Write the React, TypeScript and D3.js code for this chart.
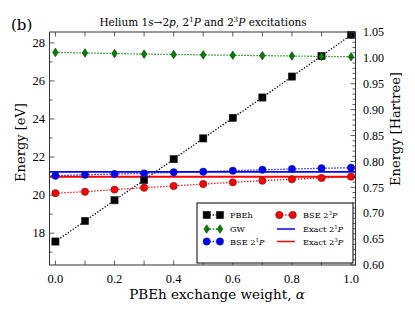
import React from 'react';
import * as d3 from 'd3';

const alphas = [0.0, 0.1, 0.2, 0.3, 0.4, 0.5, 0.6, 0.7, 0.8, 0.9, 1.0];
const pbeh = [17.56, 18.64, 19.73, 20.79, 21.89, 22.98, 24.06, 25.13, 26.23, 27.31, 28.42];
const gw = [27.5, 27.47, 27.44, 27.41, 27.39, 27.37, 27.35, 27.33, 27.31, 27.29, 27.27];
const bse1P = [21.02, 21.07, 21.11, 21.14, 21.2, 21.23, 21.28, 21.33, 21.37, 21.41, 21.44];
const bse3P = [20.1, 20.18, 20.29, 20.39, 20.48, 20.58, 20.67, 20.76, 20.83, 20.9, 20.97];
const exact1P = 21.218;
const exact3P = 20.964;

const xTicks = [0, 0.2, 0.4, 0.6, 0.8, 1.0];
const xMinor = [0.1, 0.3, 0.5, 0.7, 0.9];
const evTicks = [18, 20, 22, 24, 26, 28];
const evMinor = [17, 19, 21, 23, 25, 27];
const haTicks = [0.6, 0.65, 0.7, 0.75, 0.8, 0.85, 0.9, 0.95, 1.0, 1.05];

const HA = 27.2114;
const FONT = 'DejaVu Serif';
const TICKFONT = 'Liberation Serif';

const margin = { left: 49.5, right: 355.5, top: 32, bottom: 265 };

const x = d3.scaleLinear().domain([-0.02, 1.015]).range([margin.left, margin.right]);
const yEv = d3.scaleLinear().domain([0.6 * HA, 1.05 * HA]).range([margin.bottom, margin.top]);
const yHa = d3.scaleLinear().domain([0.6, 1.05]).range([margin.bottom, margin.top]);

const haMinor = d3.range(60, 106).map((v) => v / 100).filter((v) => Math.round(v * 100) % 5 !== 0);

const Square = ({ cx, cy, fill }: any) => (
	<rect x={cx - 3.6} y={cy - 3.6} width={7.2} height={7.2} fill={fill} stroke="#222" strokeWidth={0.6} />
);
const Diamond = ({ cx, cy, fill }: any) => (
	<path d={`M${cx},${cy - 4.3}L${cx + 2.8},${cy}L${cx},${cy + 4.3}L${cx - 2.8},${cy}Z`} fill={fill} stroke="#0a400a" strokeWidth={0.6} />
);
const Circle = ({ cx, cy, fill }: any) => <circle cx={cx} cy={cy} r={3.7} fill={fill} stroke="#333" strokeWidth={0.5} />;

const series = [
	{ name: 'PBEh', data: pbeh, color: '#000000', Marker: Square },
	{ name: 'GW', data: gw, color: '#008000', Marker: Diamond },
	{ name: 'BSE1', data: bse1P, color: '#0000ff', Marker: Circle },
	{ name: 'BSE3', data: bse3P, color: '#ff0000', Marker: Circle },
];

const line = d3
	.line<number>()
	.x((d, i) => x(alphas[i]))
	.y((d) => yEv(d));

export default function App() {
	const lx = 197;
	const ly = 203;
	const rows = [215, 229, 241.5];
	const legendText = { fontFamily: FONT, fontSize: 8.2, fill: '#000' };

	return (
		<svg width={415} height={312} style={{ position: 'absolute', left: 0, top: 0, background: '#fff' }}>
			<rect width={415} height={312} fill="#fff" />
			{/* exact values */}
			<line x1={margin.left} x2={margin.right} y1={yEv(exact1P)} y2={yEv(exact1P)} stroke="#0000ff" strokeWidth={1.8} />
			<line x1={margin.left} x2={margin.right} y1={yEv(exact3P)} y2={yEv(exact3P)} stroke="#ff0000" strokeWidth={1.8} />

			{series.map((s) => (
				<g key={s.name}>
					<path d={line(s.data) || ''} fill="none" stroke={s.color} strokeWidth={1.3} strokeDasharray="1.3,1.7" />
					{s.data.map((v, i) => (
						<s.Marker key={i} cx={x(alphas[i])} cy={yEv(v)} fill={s.color} />
					))}
				</g>
			))}

			{/* frame */}
			<rect
				x={margin.left}
				y={margin.top}
				width={margin.right - margin.left}
				height={margin.bottom - margin.top}
				fill="none"
				stroke="#333"
				strokeWidth={1}
			/>

			{/* x ticks */}
			{xTicks.concat(xMinor).map((t) => (
				<g key={'x' + t} stroke="#333" strokeWidth={0.8}>
					<line x1={x(t)} x2={x(t)} y1={margin.bottom} y2={margin.bottom - 4.5} />
					<line x1={x(t)} x2={x(t)} y1={margin.top} y2={margin.top + 4.5} />
				</g>
			))}
			{xTicks.map((t) => (
				<text key={'xl' + t} x={x(t)} y={283} textAnchor="middle" fontFamily={TICKFONT} fontSize={12.5}>
					{t.toFixed(1)}
				</text>
			))}

			{/* left ticks */}
			{evTicks.map((t) => (
				<g key={'e' + t}>
					<line x1={margin.left} x2={margin.left + 5} y1={yEv(t)} y2={yEv(t)} stroke="#333" strokeWidth={0.8} />
					<text x={45} y={yEv(t) + 4.2} textAnchor="end" fontFamily={TICKFONT} fontSize={12.5}>
						{t}
					</text>
				</g>
			))}
			{evMinor.map((t) => (
				<line key={'em' + t} x1={margin.left} x2={margin.left + 3} y1={yEv(t)} y2={yEv(t)} stroke="#333" strokeWidth={0.8} />
			))}

			{/* right ticks */}
			{haTicks.map((t) => (
				<g key={'h' + t}>
					<line x1={margin.right} x2={margin.right - 5} y1={yHa(t)} y2={yHa(t)} stroke="#333" strokeWidth={0.8} />
					<text x={363} y={yHa(t) + 4.2} textAnchor="start" fontFamily={TICKFONT} fontSize={12}>
						{t.toFixed(2)}
					</text>
				</g>
			))}
			{haMinor.map((t) => (
				<line key={'hm' + t} x1={margin.right} x2={margin.right - 3} y1={yHa(t)} y2={yHa(t)} stroke="#333" strokeWidth={0.8} />
			))}

			{/* axis labels */}
			<text x={217} y={299} textAnchor="middle" fontFamily={FONT} fontSize={13.5}>
				PBEh exchange weight, <tspan fontStyle="italic">α</tspan>
			</text>
			<text transform="translate(25,142.5) rotate(-90)" textAnchor="middle" fontFamily={FONT} fontSize={13}>
				Energy [eV]
			</text>
			<text transform="translate(400,129) rotate(-90)" textAnchor="middle" fontFamily={FONT} fontSize={13}>
				Energy [Hartree]
			</text>

			{/* title */}
			<text x={203} y={26} textAnchor="middle" fontFamily={FONT} fontSize={10.5}>
				Helium 1<tspan fontStyle="italic">s</tspan>→2<tspan fontStyle="italic">p</tspan>, 2
				<tspan dy={-4} fontSize={7}>
					1
				</tspan>
				<tspan dy={4} fontStyle="italic">
					P
				</tspan>{' '}
				and 2
				<tspan dy={-4} fontSize={7}>
					3
				</tspan>
				<tspan dy={4} fontStyle="italic">
					P
				</tspan>{' '}
				excitations
			</text>
			<text x={11} y={30} fontFamily={FONT} fontSize={15}>
				(b)
			</text>

			{/* legend */}
			<rect x={lx} y={ly} width={156} height={60} fill="#fff" stroke="#000" strokeWidth={1} />
			{series.slice(0, 3).map((s, i) => (
				<g key={'lg' + s.name}>
					<line x1={206.7} x2={220} y1={rows[i]} y2={rows[i]} stroke={s.color} strokeWidth={1.3} strokeDasharray="1.3,1.7" />
					<s.Marker cx={206.7} cy={rows[i]} fill={s.color} />
					<s.Marker cx={220} cy={rows[i]} fill={s.color} />
				</g>
			))}
			<text x={230} y={rows[0] + 3} {...legendText}>
				PBEh
			</text>
			<text x={230} y={rows[1] + 3} {...legendText}>
				GW
			</text>
			<text x={230} y={rows[2] + 3} {...legendText}>
				BSE 2
				<tspan dy={-3} fontSize={5.5}>
					1
				</tspan>
				<tspan dy={3} fontStyle="italic">
					P
				</tspan>
			</text>
			<line x1={279.3} x2={292.7} y1={rows[0]} y2={rows[0]} stroke="#ff0000" strokeWidth={1.3} strokeDasharray="1.3,1.7" />
			<Circle cx={279.3} cy={rows[0]} fill="#ff0000" />
			<Circle cx={292.7} cy={rows[0]} fill="#ff0000" />
			<line x1={277} x2={295} y1={rows[1]} y2={rows[1]} stroke="#0000ff" strokeWidth={1.5} />
			<line x1={277} x2={295} y1={rows[2]} y2={rows[2]} stroke="#ff0000" strokeWidth={1.5} />
			<text x={303} y={rows[0] + 3} {...legendText}>
				BSE 2
				<tspan dy={-3} fontSize={5.5}>
					3
				</tspan>
				<tspan dy={3} fontStyle="italic">
					P
				</tspan>
			</text>
			<text x={303} y={rows[1] + 3} {...legendText}>
				Exact 2
				<tspan dy={-3} fontSize={5.5}>
					1
				</tspan>
				<tspan dy={3} fontStyle="italic">
					P
				</tspan>
			</text>
			<text x={303} y={rows[2] + 3} {...legendText}>
				Exact 2
				<tspan dy={-3} fontSize={5.5}>
					3
				</tspan>
				<tspan dy={3} fontStyle="italic">
					P
				</tspan>
			</text>
		</svg>
	);
}
